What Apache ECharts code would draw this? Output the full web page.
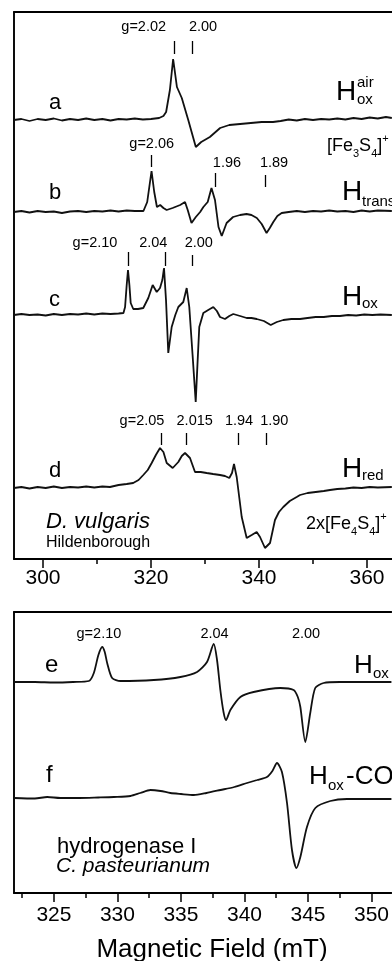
<!DOCTYPE html>
<html>
<head>
<meta charset="utf-8">
<script src="https://cdn.jsdelivr.net/npm/echarts@6/dist/echarts.min.js"></script>
<style>
html,body{margin:0;padding:0;background:#fff;}
#chart{width:392px;height:961px;}
</style>
</head>
<body>
<div id="chart"></div>
<script>
// ---------- Data (magnetic field in mT, derivative intensity in arbitrary units) ----------
const topTickMajor = [300, 320, 340, 360];
const topTickMinor = [310, 330, 350];
const botTickMajor = [325, 330, 335, 340, 345, 350];
const botTickMinor = [322.5, 327.5, 332.5, 337.5, 342.5, 347.5];

const traceA = [[294.6,0],[296.0,1],[297.5,-1],[299.0,1],[300.5,0],[302.0,1.5],[303.5,-0.5],[305.0,1],[306.5,0],[308.0,1.5],[309.5,0],[311.0,1],[312.5,-0.5],[314.0,1],[315.5,0.5],[317.0,1.5],[318.5,0.5],[320.0,1],[321.5,2],[322.3,4],[322.8,8],[323.5,30],[324.1,61],[324.8,33],[325.7,22],[326.9,0],[328.3,-27],[329.3,-22],[330.9,-17],[332.8,-8],[334.5,-5],[336.5,-4],[338.5,-3],[340.5,-2],[342.6,-2],[344.0,-1],[345.5,0.5],[347.0,-0.5],[348.5,1],[350.0,0],[351.5,1],[353.0,0.5],[354.5,1.5],[356.0,0.5],[357.5,2],[359.0,1],[360.5,2.5],[362.0,1.5],[363.5,3],[364.6,2]];
const traceB = [[294.6,0],[296,1],[297.5,-0.5],[299,1],[300.5,0],[302,0.5],[303.5,-1],[305,0.5],[306.5,1],[308,0],[309.5,1],[311,0.5],[312.5,1.5],[314,0.5],[315.5,1.5],[317,1],[318.6,1],[319.3,10],[320.1,41],[320.6,20],[321.1,5],[321.7,7],[322.3,4],[322.9,2],[324.0,4],[325.4,7],[326.3,10],[326.8,2],[327.5,-11],[328.3,-5],[329.1,0],[329.7,5],[330.5,10],[331.2,24],[331.85,12],[332.5,-15],[333.1,-24],[334.0,-11],[335.2,-5],[336.5,-3],[337.7,-2],[338.6,-3],[339.6,-6],[340.5,-12],[341.4,-21],[342.0,-16],[342.65,-10],[343.4,-4],[344.2,-1],[345.5,0],[347,1],[348.5,0],[350,1],[351.5,0.5],[353,1.5],[354.5,0.5],[356,1],[357.5,0],[359,1.5],[360.5,0.5],[362,1.5],[364.6,1]];
const traceC = [[294.6,0],[296,1],[297.5,0],[299,0.5],[300.5,-0.5],[302,1],[303.5,0],[305,1],[306.5,0.5],[308,1.5],[309.5,0.5],[311,1.5],[312.5,1],[314,1.5],[314.9,2],[315.2,8],[315.5,30],[315.74,45],[316.0,30],[316.24,12],[316.72,6],[317.6,6],[318.57,7],[319.5,17],[320.31,30],[321.06,23],[321.67,27],[322.1,35],[322.41,47],[322.78,15],[323.2,-38],[323.83,-12],[324.5,0],[325.06,8],[325.98,13],[326.61,27],[327.09,8],[327.7,-40],[328.28,-87],[328.6,-50],[328.94,-12],[329.69,2],[330.6,5],[331.54,8],[332.2,4],[332.78,-2],[333.7,-4],[334.5,-1],[335.24,1],[336.5,-1],[337.72,-3],[338.6,-3],[339.57,-4],[340.9,-6],[342.17,-10],[343.3,-7],[344.5,-5],[346,-4],[347.6,-4],[349,-3],[350.5,-2],[352,-2],[353.5,-1],[355,-1],[356.5,0],[358,-0.5],[359.5,0.5],[361,0],[362.5,0.5],[364.6,0]];
const traceD = [[294.6,0],[296,1],[297.5,-0.5],[299,1],[300.5,0],[302,1.5],[303.5,0],[305,1],[306.5,0.5],[308,1.5],[309.5,0.5],[311,1.5],[312.4,1],[314,3],[315.5,4],[316.7,5],[317.7,8],[318.57,13],[319.4,18],[320.13,25],[320.9,33],[321.67,40],[322.3,36],[322.91,25],[324.02,20],[325.06,26],[325.7,32],[326.3,35],[327.22,30],[328.15,16],[329.2,16],[330.31,15],[331.5,14],[332.78,13],[333.7,12],[334.5,10],[335.0,15],[335.37,24],[335.87,11],[336.8,-29],[337.72,-50],[338.65,-47],[339.57,-44],[340.19,-49],[341.11,-60],[342.04,-55],[342.96,-32],[343.7,-24],[344.5,-19],[345.7,-13],[346.98,-9],[347.6,-7],[349.0,-5],[350.5,-4],[352,-3],[353.15,-2],[354.5,-1],[356,-0.5],[357.5,0.5],[359,0],[360.5,1],[362,0.5],[364.6,1]];
const traceE = [[321.86,0],[323.5,0],[325,-0.5],[326.5,0],[327.75,1],[328.14,9],[328.5,27],[328.8,35],[329.0,30],[329.19,19],[329.58,4],[330.24,1],[332.86,2],[334.96,5],[336.27,10],[337.05,20],[337.58,38],[337.84,22],[338.1,-8],[338.35,-30],[338.55,-38],[338.89,-28],[339.68,-15],[340.72,-10],[342.82,-6],[343.87,-8],[344.2,-15],[344.4,-25],[344.79,-60],[345.18,-31],[345.57,-6],[346.23,-1],[347.5,0],[351.57,0]];
const traceF = [[321.86,0],[323.5,-0.5],[324.47,1],[325.5,0],[327,0],[328.5,0.5],[329.72,1],[331.03,2],[331.8,5],[332.6,8],[333.4,7],[334.17,5],[335.0,4],[336.01,3],[337,5],[338.11,8],[339.2,11],[340.2,15],[341.0,18],[341.77,21],[342.2,27],[342.56,35],[342.95,26],[343.35,-5],[343.74,-52],[344.09,-70],[344.4,-59],[344.92,-29],[345.58,-10],[346.76,-3],[348.07,-1],[351.57,-1]];

// g-value marker ticks: [field, from, to] in panel intensity units
const gTicksTop = [[324.26,505,518],[327.65,505,518],[320.13,392,404],[331.85,372,386],[341.24,372,384],[315.8,293,307],[322.72,293,307],[327.72,293,304],[321.85,114,126],[326.61,114,126],[336.17,114,126],[341.43,114,126]];
// g-value labels: [text, field, level]
const gLabelsTop = [['g=2.02',318.65,532],['2.00',329.63,532],['g=2.06',320.13,415],['1.96',334.07,396],['1.89',342.78,396],['g=2.10',309.63,316],['2.04',320.43,316],['2.00',328.85,316],['g=2.05',318.33,138],['2.015',328.09,138],['1.94',336.3,138],['1.90',342.83,138]];
const gLabelsBot = [['g=2.10',328.54,259],['2.04',337.64,259],['2.00',344.85,259]];

// ---------- Layout ----------
const FONT = '"Liberation Sans", Arial, Helvetica, sans-serif';
const offsTop = [439, 347, 244, 71];   // stacking offsets of traces a-d
const offsBot = [211, 95];             // stacking offsets of traces e-f
const TOP = {min: 294.63, max: 364.63};
const BOT = {min: 321.855, max: 351.572};

const chart = echarts.init(document.getElementById('chart'), null, {renderer: 'canvas'});

function shift(tr, off){ return tr.map(p => [p[0], p[1] + off]); }

const lineAx = {show: true, onZero: false, lineStyle: {color: '#000', width: 1.9}};
function xAxes(grid, rng, major, minor, margin){
  return [
    {type:'value', gridIndex:grid, position:'bottom', min:rng.min, max:rng.max,
     axisLine: lineAx, splitLine:{show:false},
     axisTick:{show:true, customValues: major, length:9, lineStyle:{color:'#000', width:1.5}},
     axisLabel:{show:true, customValues: major, margin: margin, color:'#000', fontSize:21, fontFamily:FONT}},
    {type:'value', gridIndex:grid, position:'bottom', min:rng.min, max:rng.max,
     axisLine:{show:false}, splitLine:{show:false},
     axisTick:{show:true, customValues: minor, length:5, lineStyle:{color:'#000', width:1.5}},
     axisLabel:{show:false}},
    {type:'value', gridIndex:grid, position:'top', min:rng.min, max:rng.max,
     axisLine: lineAx, splitLine:{show:false}, axisTick:{show:false}, axisLabel:{show:false}}
  ];
}

function trace(data, off, xi, yi, smooth, extra){
  return Object.assign({
    type:'line', xAxisIndex:xi, yAxisIndex:yi, data: shift(data, off),
    showSymbol:false, symbol:'none', smooth: smooth, animation:false, silent:true,
    lineStyle:{color:'#111', width:1.8}
  }, extra || {});
}

const tickMark = {
  silent:true, animation:false, symbol:['none','none'],
  label:{show:false}, lineStyle:{color:'#000', width:1.3, type:'solid'},
  data: gTicksTop.map(t => [{coord:[t[0], t[1]]}, {coord:[t[0], t[2]]}])
};

chart.setOption({
  animation:false,
  backgroundColor:'#fff',
  grid:[
    {left:14, right:0, top:12, bottom:402, show:false},
    {left:14, right:0, top:612, bottom:68, show:false}
  ],
  xAxis: xAxes(0, TOP, topTickMajor, topTickMinor, 9).concat(xAxes(1, BOT, botTickMajor, botTickMinor, 12)),
  yAxis:[
    {type:'value', gridIndex:0, min:0, max:547, axisLine: lineAx, axisTick:{show:false}, axisLabel:{show:false}, splitLine:{show:false}},
    {type:'value', gridIndex:1, min:0, max:281, axisLine: lineAx, axisTick:{show:false}, axisLabel:{show:false}, splitLine:{show:false}}
  ],
  series:[
    trace(traceA, offsTop[0], 0, 0, false, {markLine: tickMark}),
    trace(traceB, offsTop[1], 0, 0, false),
    trace(traceC, offsTop[2], 0, 0, false),
    trace(traceD, offsTop[3], 0, 0, false),
    trace(traceE, offsBot[0], 3, 1, 0.25),
    trace(traceF, offsBot[1], 3, 1, 0.25)
  ]
});

// ---------- Text annotations ----------
function txt(x, y, text, size, o){
  o = o || {};
  return {type:'text', silent:true, x:x, y:y, style:{
    text:text, fill:'#000', fontSize:size, fontFamily:FONT,
    fontStyle:o.italic ? 'italic' : 'normal',
    textAlign:o.align || 'left', textVerticalAlign:'middle', rich:o.rich
  }};
}
const g = [];
gLabelsTop.forEach(l => { const p = chart.convertToPixel({gridIndex:0}, [l[1], l[2]]); g.push(txt(p[0], p[1], l[0], 14.5, {align:'center'})); });
gLabelsBot.forEach(l => { const p = chart.convertToPixel({gridIndex:1}, [l[1], l[2]]); g.push(txt(p[0], p[1], l[0], 14.5, {align:'center'})); });

// trace letters
g.push(txt(49, 103, 'a', 22));
g.push(txt(49, 193, 'b', 22));
g.push(txt(49, 300, 'c', 22));
g.push(txt(49, 471, 'd', 22));
g.push(txt(45, 665, 'e', 24));
g.push(txt(46, 775, 'f', 24));

// state labels
g.push(txt(336, 92, 'H', 28));
g.push(txt(357, 83, 'air', 15));
g.push(txt(357, 100, 'ox', 15));
g.push(txt(342, 192, 'H', 28));
g.push(txt(362, 202, 'trans', 15));
g.push(txt(342, 297, 'H', 28));
g.push(txt(362, 304, 'ox', 15));
g.push(txt(342, 469, 'H', 28));
g.push(txt(362, 476, 'red', 15));
g.push(txt(354, 666, 'H', 26));
g.push(txt(373, 674, 'ox', 15));
g.push(txt(309, 777, 'H', 26));
g.push(txt(328, 786, 'ox', 15));
g.push(txt(346, 777, '-CO', 26));

const richFe = {
  n:{fontSize:18, fontFamily:FONT, fill:'#000', lineHeight:26, verticalAlign:'middle'},
  s:{fontSize:11, fontFamily:FONT, fill:'#000', lineHeight:26, verticalAlign:'bottom'},
  p:{fontSize:11, fontFamily:FONT, fill:'#000', lineHeight:26, verticalAlign:'top'}
};
g.push(txt(327, 146, '{n|[Fe}{s|3}{n|S}{s|4}{n|]}{p|+}', 18, {rich: richFe}));
g.push(txt(306, 524, '{n|2x[Fe}{s|4}{n|S}{s|4}{n|]}{p|+}', 18, {rich: richFe}));

// organism labels
g.push(txt(46, 522, 'D. vulgaris', 22, {italic:true}));
g.push(txt(46, 543, 'Hildenborough', 16));
g.push(txt(57, 847, 'hydrogenase I', 22));
g.push(txt(56, 866, 'C. pasteurianum', 21, {italic:true}));

// axis title
g.push(txt(212, 950, 'Magnetic Field (mT)', 26, {align:'center'}));

chart.setOption({graphic: g});
</script>
</body>
</html>
